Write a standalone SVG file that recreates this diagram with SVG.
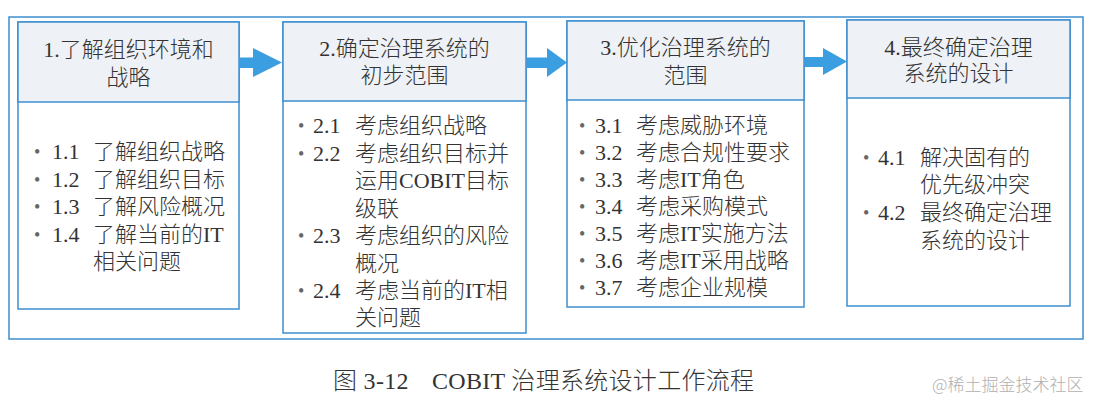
<svg xmlns="http://www.w3.org/2000/svg" width="1098" height="410" viewBox="0 0 1098 410">
<style>
.frame{fill:#ffffff;stroke:#3d8fcf;stroke-width:1.5}
.hdr{fill:#eef1f5;stroke:#3d8fcf;stroke-width:1.5}
.body{fill:#ffffff;stroke:#3d8fcf;stroke-width:1.5}
.arrow{fill:#3a9ee0;stroke:none}
text{font-family:"Liberation Serif","Noto Sans CJK SC",serif;fill:#333333;font-weight:300}
.h{font-size:22px;text-anchor:middle}
.t{font-size:22px}
.b{font-size:18px;fill:#666}
.cap{font-size:24px;fill:#333;letter-spacing:0.3px}
.wm{font-family:"Noto Sans CJK SC",sans-serif;font-size:17px;fill:#b0b0b0}
</style>
<rect x="0" y="0" width="1098" height="410" fill="#ffffff"/>
<rect class="frame" x="9" y="17" width="1074" height="322"/>

<g id="node1">
<rect class="body" x="18" y="22" width="221" height="287"/>
<rect class="hdr" x="18" y="22" width="221" height="80"/>
<text class="h" x="128.5" y="57">1.了解组织环境和</text>
<text class="h" x="128.5" y="85">战略</text>
<text class="b" x="34" y="158">•</text><text class="t" x="52" y="159">1.1</text><text class="t" x="93" y="159">了解组织战略</text>
<text class="b" x="34" y="186">•</text><text class="t" x="52" y="187">1.2</text><text class="t" x="93" y="187">了解组织目标</text>
<text class="b" x="34" y="213">•</text><text class="t" x="52" y="214">1.3</text><text class="t" x="93" y="214">了解风险概况</text>
<text class="b" x="34" y="241">•</text><text class="t" x="52" y="242">1.4</text><text class="t" x="93" y="242">了解当前的IT</text>
<text class="t" x="93" y="269">相关问题</text>
</g>

<g id="node2">
<rect class="body" x="283" y="22" width="243" height="311"/>
<rect class="hdr" x="283" y="22" width="243" height="79"/>
<text class="h" x="404.5" y="56">2.确定治理系统的</text>
<text class="h" x="404.5" y="83">初步范围</text>
<text class="b" x="298" y="132">•</text><text class="t" x="313" y="133">2.1</text><text class="t" x="355" y="133">考虑组织战略</text>
<text class="b" x="298" y="160">•</text><text class="t" x="313" y="161">2.2</text><text class="t" x="355" y="161">考虑组织目标并</text>
<text class="t" x="355" y="188">运用COBIT目标</text>
<text class="t" x="355" y="216">级联</text>
<text class="b" x="298" y="242">•</text><text class="t" x="313" y="243">2.3</text><text class="t" x="355" y="243">考虑组织的风险</text>
<text class="t" x="355" y="271">概况</text>
<text class="b" x="298" y="297">•</text><text class="t" x="313" y="298">2.4</text><text class="t" x="355" y="298">考虑当前的IT相</text>
<text class="t" x="355" y="325">关问题</text>
</g>

<g id="node3">
<rect class="body" x="567" y="21" width="237" height="286"/>
<rect class="hdr" x="567" y="21" width="237" height="79"/>
<text class="h" x="685.5" y="55">3.优化治理系统的</text>
<text class="h" x="685.5" y="83">范围</text>
<text class="b" x="579" y="132">•</text><text class="t" x="595" y="133">3.1</text><text class="t" x="636" y="133">考虑威胁环境</text>
<text class="b" x="579" y="159">•</text><text class="t" x="595" y="160">3.2</text><text class="t" x="636" y="160">考虑合规性要求</text>
<text class="b" x="579" y="186">•</text><text class="t" x="595" y="187">3.3</text><text class="t" x="636" y="187">考虑IT角色</text>
<text class="b" x="579" y="213">•</text><text class="t" x="595" y="214">3.4</text><text class="t" x="636" y="214">考虑采购模式</text>
<text class="b" x="579" y="240">•</text><text class="t" x="595" y="241">3.5</text><text class="t" x="636" y="241">考虑IT实施方法</text>
<text class="b" x="579" y="267">•</text><text class="t" x="595" y="268">3.6</text><text class="t" x="636" y="268">考虑IT采用战略</text>
<text class="b" x="579" y="294">•</text><text class="t" x="595" y="295">3.7</text><text class="t" x="636" y="295">考虑企业规模</text>
</g>

<g id="node4">
<rect class="body" x="847" y="20" width="223" height="286"/>
<rect class="hdr" x="847" y="20" width="223" height="78"/>
<text class="h" x="958.5" y="55">4.最终确定治理</text>
<text class="h" x="958.5" y="81">系统的设计</text>
<text class="b" x="863" y="164">•</text><text class="t" x="878" y="165">4.1</text><text class="t" x="920" y="165">解决固有的</text>
<text class="t" x="920" y="192">优先级冲突</text>
<text class="b" x="863" y="219">•</text><text class="t" x="878" y="220">4.2</text><text class="t" x="920" y="220">最终确定治理</text>
<text class="t" x="920" y="248">系统的设计</text>
</g>

<g id="connectors">
<polygon class="arrow" points="239,57.5 253,57.5 253,48 282,62.5 253,77 253,68 239,68"/>
<polygon class="arrow" points="527,57.5 547,57.5 547,48 567,62.5 547,77 547,68 527,68"/>
<polygon class="arrow" points="805,57 823,57 823,48 847,61.5 823,75 823,67 805,67"/>
</g>

<text class="cap" x="333" y="389">图 3-12</text>
<text class="cap" x="432" y="389">COBIT 治理系统设计工作流程</text>
<text class="wm" x="932" y="391">@稀土掘金技术社区</text>
</svg>
